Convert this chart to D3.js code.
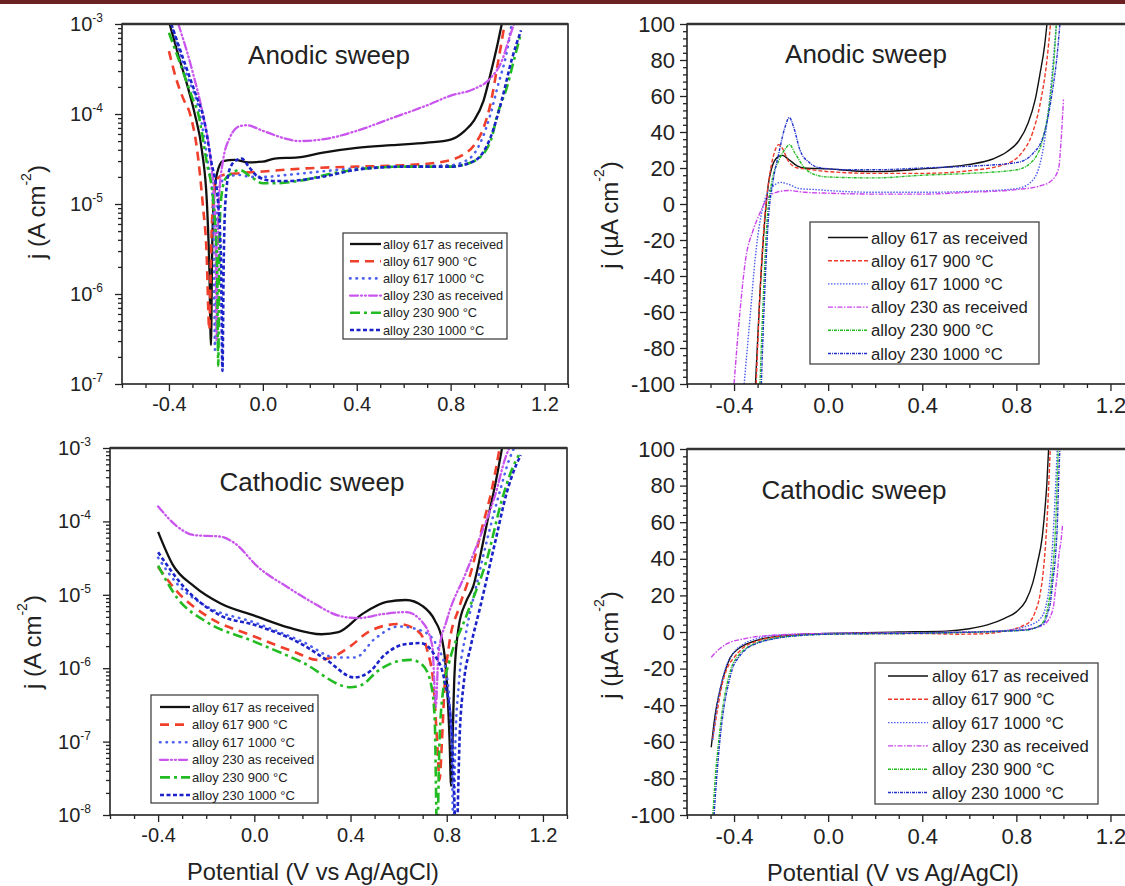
<!DOCTYPE html>
<html><head><meta charset="utf-8">
<script src="https://cdn.jsdelivr.net/npm/d3@7"></script>
<style>body{margin:0;background:#fff;} svg{display:block;font-family:"Liberation Sans",Arial,sans-serif;}</style>
</head><body><svg id="c" width="1125" height="886"></svg>
<script>
// ---------- DATA ----------
const seriesNames = ["alloy 617 as received","alloy 617 900 °C","alloy 617 1000 °C","alloy 230 as received","alloy 230 900 °C","alloy 230 1000 °C"];
const xTickValues = [-0.4, 0.0, 0.4, 0.8, 1.2];
const anodicLogExponents = [-3,-4,-5,-6,-7];
const cathodicLogExponents = [-3,-4,-5,-6,-7,-8];
const linearTickValues = [100,80,60,40,20,0,-20,-40,-60,-80,-100];

// Anodic sweep, j in A cm^-2 : [potential V, j]
const anLog617AR = [[-0.397,1e-3],[-0.36,4.5e-4],[-0.32,2e-4],[-0.29,1e-4],[-0.26,4e-5],[-0.238,1e-5],[-0.228,2e-6],[-0.221,2.7e-7],[-0.216,3e-6],[-0.21,1e-5],[-0.195,2.2e-5],[-0.17,3.0e-5],[-0.12,3.1e-5],[-0.06,2.9e-5],[0.0,2.95e-5],[0.05,3.2e-5],[0.15,3.3e-5],[0.25,3.7e-5],[0.4,4.2e-5],[0.55,4.5e-5],[0.7,4.8e-5],[0.8,5.2e-5],[0.86,6.5e-5],[0.9,8.5e-5],[0.94,1.4e-4],[0.97,2.8e-4],[1.0,6e-4],[1.018,1e-3]];
const anLog617_900 = [[-0.40,5e-4],[-0.37,2.5e-4],[-0.34,1.5e-4],[-0.31,1e-4],[-0.28,4e-5],[-0.256,1e-5],[-0.24,3e-6],[-0.228,4e-7],[-0.222,2e-6],[-0.215,8e-6],[-0.2,1.8e-5],[-0.17,2.1e-5],[-0.1,2.2e-5],[0.0,2.3e-5],[0.2,2.5e-5],[0.4,2.6e-5],[0.6,2.7e-5],[0.75,2.9e-5],[0.85,3.5e-5],[0.9,4.5e-5],[0.94,7e-5],[0.97,1.3e-4],[1.0,3.5e-4],[1.03,1e-3]];
const anLog617_1000 = [[-0.39,1e-3],[-0.33,3e-4],[-0.268,1e-4],[-0.235,3e-5],[-0.212,1e-5],[-0.208,2e-6],[-0.204,2.4e-7],[-0.2,2e-6],[-0.195,8e-6],[-0.18,1.7e-5],[-0.15,2.0e-5],[-0.1,2.1e-5],[-0.05,2.0e-5],[0.0,2.0e-5],[0.1,2.1e-5],[0.25,2.3e-5],[0.4,2.5e-5],[0.6,2.6e-5],[0.8,2.7e-5],[0.88,3.2e-5],[0.93,5e-5],[0.97,1e-4],[1.0,2e-4],[1.04,5e-4],[1.06,1e-3]];
const anLog230AR = [[-0.36,1e-3],[-0.3,3e-4],[-0.256,1e-4],[-0.222,3e-5],[-0.206,1e-5],[-0.2,2e-6],[-0.197,3e-7],[-0.193,2e-6],[-0.188,1e-5],[-0.17,3e-5],[-0.14,5.5e-5],[-0.1,7.3e-5],[-0.07,7.5e-5],[0.0,6.5e-5],[0.1,5.3e-5],[0.15,5e-5],[0.25,5.2e-5],[0.4,6.5e-5],[0.55,9e-5],[0.7,1.25e-4],[0.8,1.6e-4],[0.9,1.9e-4],[0.97,2.5e-4],[1.02,4e-4],[1.05,7e-4],[1.07,1e-3]];
const anLog230_900 = [[-0.40,8e-4],[-0.35,3.5e-4],[-0.3,1.5e-4],[-0.275,1e-4],[-0.24,3e-5],[-0.21,1e-5],[-0.195,2e-6],[-0.19,1.6e-7],[-0.186,2e-6],[-0.18,1e-5],[-0.16,1.9e-5],[-0.13,2.2e-5],[-0.1,2.4e-5],[-0.05,2.0e-5],[0.0,1.7e-5],[0.05,1.7e-5],[0.15,1.8e-5],[0.3,2.2e-5],[0.45,2.5e-5],[0.6,2.6e-5],[0.8,2.6e-5],[0.9,3e-5],[0.97,5e-5],[1.0,1e-4],[1.04,2e-4],[1.07,4e-4],[1.1,8e-4]];
const anLog230_1000 = [[-0.39,1e-3],[-0.33,3.5e-4],[-0.28,1.5e-4],[-0.256,1e-4],[-0.22,3e-5],[-0.19,1e-5],[-0.178,2e-6],[-0.172,1.4e-7],[-0.167,2e-6],[-0.16,1e-5],[-0.14,2.5e-5],[-0.11,3.1e-5],[-0.09,3.2e-5],[-0.06,2.6e-5],[-0.02,2.0e-5],[0.05,1.8e-5],[0.1,1.8e-5],[0.25,2.0e-5],[0.4,2.4e-5],[0.6,2.6e-5],[0.8,2.6e-5],[0.9,3e-5],[0.97,5.5e-5],[1.02,1.5e-4],[1.06,4e-4],[1.1,8.5e-4]];

// Anodic sweep, j in µA cm^-2
const anLin617AR = [[-0.309,-100],[-0.29,-50],[-0.27,-10],[-0.255,10],[-0.235,22],[-0.21,26.5],[-0.195,27],[-0.17,25],[-0.13,21],[-0.1,20],[0.0,19.5],[0.1,18.5],[0.2,18],[0.3,18.5],[0.4,19.5],[0.5,20.5],[0.6,22],[0.7,25],[0.76,29],[0.81,35],[0.85,45],[0.88,58],[0.9,72],[0.92,88],[0.93,100]];
const anLin617_900 = [[-0.306,-100],[-0.29,-50],[-0.27,-8],[-0.25,15],[-0.23,28],[-0.21,33],[-0.195,31],[-0.17,24],[-0.13,20],[-0.1,19.5],[0.0,18],[0.2,17],[0.4,17],[0.6,18.5],[0.75,22],[0.82,28],[0.87,40],[0.9,55],[0.93,80],[0.945,100]];
const anLin617_1000 = [[-0.357,-100],[-0.33,-60],[-0.31,-30],[-0.29,-10],[-0.27,2],[-0.24,9],[-0.2,12],[-0.17,11],[-0.12,8.5],[-0.05,8],[0.0,7.5],[0.2,6.5],[0.4,6.5],[0.6,7],[0.8,8.5],[0.86,12],[0.9,22],[0.93,45],[0.95,70],[0.97,100]];
const anLin230AR = [[-0.40,-100],[-0.375,-60],[-0.35,-30],[-0.32,-15],[-0.29,-5],[-0.26,3],[-0.22,6.5],[-0.17,7.5],[-0.1,6.5],[0.0,6],[0.2,5.5],[0.4,5.5],[0.6,6.5],[0.8,8],[0.9,10],[0.95,13],[0.98,20],[0.99,35],[1.0,58]];
const anLin230_900 = [[-0.29,-100],[-0.275,-50],[-0.26,-10],[-0.24,12],[-0.21,24],[-0.18,31],[-0.165,33],[-0.14,28],[-0.1,20],[-0.05,16],[0.0,15],[0.2,14.5],[0.4,16],[0.6,17],[0.8,19],[0.87,24],[0.91,35],[0.94,55],[0.96,80],[0.97,100]];
const anLin230_1000 = [[-0.284,-100],[-0.27,-50],[-0.255,-10],[-0.235,12],[-0.21,28],[-0.185,42],[-0.165,48],[-0.145,42],[-0.12,30],[-0.08,23],[-0.03,20],[0.1,19],[0.2,19],[0.4,20],[0.6,21],[0.8,23],[0.87,28],[0.92,40],[0.95,60],[0.975,85],[0.985,100]];

// Cathodic sweep, j in A cm^-2
const catLog617AR = [[-0.4,7.2e-5],[-0.34,2.6e-5],[-0.25,1.3e-5],[-0.14,7.6e-6],[0.0,5.2e-6],[0.14,3.6e-6],[0.28,2.9e-6],[0.35,3.1e-6],[0.45,5.5e-6],[0.55,8e-6],[0.63,8.5e-6],[0.7,7e-6],[0.75,4.5e-6],[0.78,2.5e-6],[0.8,7e-7],[0.812,1e-7],[0.818,2.5e-8],[0.824,1e-7],[0.832,8e-7],[0.85,3.7e-6],[0.88,8e-6],[0.91,1.3e-5],[0.95,5e-5],[0.98,1.5e-4],[1.0,3e-4],[1.03,1e-3]];
const catLog617_900 = [[-0.4,2.4e-5],[-0.32,1.1e-5],[-0.2,5.2e-6],[0.0,2.7e-6],[0.17,1.65e-6],[0.26,1.3e-6],[0.32,1.4e-6],[0.4,2e-6],[0.48,3.2e-6],[0.6,4e-6],[0.68,3.2e-6],[0.72,1.7e-6],[0.745,6e-7],[0.76,1e-7],[0.77,3e-8],[0.78,1e-7],[0.79,5e-7],[0.81,2.1e-6],[0.85,6.5e-6],[0.9,2e-5],[0.95,9e-5],[0.985,2.5e-4],[1.02,1e-3]];
const catLog617_1000 = [[-0.4,3.2e-5],[-0.32,1.4e-5],[-0.2,7e-6],[0.0,4.2e-6],[0.2,2.3e-6],[0.34,1.4e-6],[0.42,1.4e-6],[0.5,2.5e-6],[0.6,3.7e-6],[0.7,3.2e-6],[0.76,2e-6],[0.8,8e-7],[0.82,1e-7],[0.828,5e-9],[0.836,1e-7],[0.85,6e-7],[0.88,3e-6],[0.92,1.2e-5],[0.97,6e-5],[1.02,2.5e-4],[1.06,7e-4],[1.08,1e-3]];
const catLog230AR = [[-0.4,1.6e-4],[-0.32,8.5e-5],[-0.25,6.5e-5],[-0.14,6.2e-5],[-0.08,5e-5],[0.015,2.4e-5],[0.14,1.26e-5],[0.25,7.6e-6],[0.35,5.2e-6],[0.43,4.8e-6],[0.54,5.5e-6],[0.63,5.8e-6],[0.7,4.2e-6],[0.74,2e-6],[0.755,3e-7],[0.765,1.5e-6],[0.8,4.5e-6],[0.88,2e-5],[0.94,6.3e-5],[1.0,2.2e-4],[1.046,7.7e-4],[1.06,1e-3]];
const catLog230_900 = [[-0.4,2.5e-5],[-0.32,9e-6],[-0.2,4.3e-6],[0.0,2.3e-6],[0.2,1.2e-6],[0.4,5.5e-7],[0.45,6e-7],[0.51,9e-7],[0.6,1.25e-6],[0.65,1.3e-6],[0.7,1.1e-6],[0.735,6e-7],[0.75,2e-7],[0.76,5e-9],[0.77,1e-7],[0.785,5e-7],[0.81,1.2e-6],[0.88,5e-6],[0.97,3.3e-5],[1.03,2e-4],[1.07,5e-4],[1.1,8e-4]];
const catLog230_1000 = [[-0.4,3.8e-5],[-0.29,1.25e-5],[-0.14,5.2e-6],[0.0,3.9e-6],[0.2,2.1e-6],[0.3,1.3e-6],[0.415,7.5e-7],[0.48,9e-7],[0.54,1.5e-6],[0.62,2.1e-6],[0.69,2.2e-6],[0.75,1.5e-6],[0.79,7e-7],[0.82,1.5e-7],[0.84,5e-9],[0.855,1.5e-7],[0.87,6e-7],[0.9,2e-6],[0.94,7e-6],[1.0,5e-5],[1.05,2.5e-4],[1.09,6e-4],[1.108,8e-4]];

// Cathodic sweep, j in µA cm^-2
const catLin617AR = [[-0.497,-63],[-0.48,-45],[-0.46,-32],[-0.44,-22],[-0.416,-14],[-0.38,-9],[-0.343,-6.4],[-0.29,-4],[-0.24,-2.8],[-0.1,-1.2],[0.1,-0.5],[0.3,0],[0.5,0.5],[0.6,1.8],[0.68,4],[0.75,7.5],[0.8,11],[0.84,17],[0.87,27],[0.89,38],[0.91,52],[0.92,65],[0.93,82],[0.937,100]];
const catLin617_900 = [[-0.49,-58],[-0.47,-42],[-0.453,-30],[-0.43,-20],[-0.4,-14],[-0.36,-8.5],[-0.313,-5.5],[-0.25,-3.2],[-0.1,-1.3],[0.2,-0.8],[0.4,-0.8],[0.55,-1.2],[0.65,-1],[0.75,0.5],[0.82,3],[0.86,6],[0.88,11],[0.9,20],[0.915,34],[0.93,60],[0.944,100]];
const catLin617_1000 = [[-0.49,-59],[-0.47,-38],[-0.45,-26],[-0.43,-17.5],[-0.4,-11],[-0.357,-6.4],[-0.3,-3.5],[-0.24,-2],[0.0,-0.8],[0.42,-0.4],[0.7,0.3],[0.834,2.8],[0.9,7],[0.925,14],[0.94,25],[0.955,50],[0.965,75],[0.974,100]];
const catLin230AR = [[-0.497,-13.8],[-0.46,-9],[-0.43,-6.4],[-0.357,-3.7],[-0.24,-1.8],[0.0,-0.8],[0.42,-0.4],[0.79,1],[0.893,2.8],[0.93,5.5],[0.944,8.3],[0.96,16],[0.966,23],[0.975,33],[0.98,41],[0.99,50],[0.996,58]];
const catLin230_900 = [[-0.49,-100],[-0.48,-80],[-0.468,-63],[-0.45,-43],[-0.43,-28.5],[-0.41,-19],[-0.387,-13.8],[-0.35,-9],[-0.313,-6.4],[-0.25,-4],[-0.196,-2.8],[0.0,-1.2],[0.42,-0.6],[0.834,1],[0.9,3.5],[0.925,9],[0.937,15.6],[0.95,28],[0.959,41],[0.968,62],[0.974,84],[0.978,100]];
const catLin230_1000 = [[-0.485,-100],[-0.474,-80],[-0.463,-63],[-0.445,-43],[-0.424,-28.5],[-0.404,-19],[-0.38,-13.8],[-0.345,-9],[-0.306,-6.4],[-0.24,-4],[-0.188,-2.8],[0.0,-1.2],[0.42,-0.6],[0.834,1],[0.915,4.6],[0.935,11],[0.944,15.6],[0.955,28],[0.966,41],[0.975,62],[0.98,84],[0.985,100]];

// ---------- STYLES ----------
const logStyles = [
  {color:"#111111", width:2.3, dash:null, cap:"butt"},
  {color:"#f0402c", width:2.6, dash:"9,6", cap:"butt"},
  {color:"#4d5ff0", width:2.6, dash:"0.5,6", cap:"round"},
  {color:"#c955ee", width:2.3, dash:"8,3,1,3,1,3", cap:"round"},
  {color:"#22bb22", width:2.6, dash:"10,4,3,4", cap:"butt"},
  {color:"#1a22c8", width:2.6, dash:"4,2.5", cap:"butt"}
];
const linStyles = [
  {color:"#111111", width:1.4, dash:null, cap:"butt"},
  {color:"#ee3a2a", width:1.4, dash:"4,2", cap:"butt"},
  {color:"#4a5cf0", width:1.4, dash:"1.5,1.5", cap:"butt"},
  {color:"#cc44ee", width:1.4, dash:"5,1.5,1.5,1.5", cap:"butt"},
  {color:"#22bb22", width:1.4, dash:"3,1,1,1", cap:"butt"},
  {color:"#2233cc", width:1.4, dash:"3,1,1,1", cap:"butt"}
];

const panels = [
  {log:true, exps:anodicLogExponents, x0:122, x1:568, y0:24, y1:384, series:[anLog617AR,anLog617_900,anLog617_1000,anLog230AR,anLog230_900,anLog230_1000],
   styles:logStyles, tickFs:20, title:"Anodic sweep", tx:329, ty:55, ytitle:["j (A cm","-2",")"], ytx:36, yty:212, yfs:24, xtitle:false,
   leg:{bx0:343,by0:233,bx1:507,by1:339,row0:244,dy:17.2,lx0:350,lx1:381,tx:383,fs:12.8}},
  {log:false, x0:687, x1:1134, y0:24, y1:384, series:[anLin617AR,anLin617_900,anLin617_1000,anLin230AR,anLin230_900,anLin230_1000],
   styles:linStyles, tickFs:22, title:"Anodic sweep", tx:866, ty:54, ytitle:["j (\u00b5A cm","-2",")"], ytx:609, yty:215, yfs:24, xtitle:false,
   leg:{bx0:810,by0:222,bx1:1039,by1:364,row0:237.5,dy:23.2,lx0:828,lx1:868,tx:871,fs:16.7}},
  {log:true, exps:cathodicLogExponents, x0:110, x1:567, y0:448, y1:815, series:[catLog617AR,catLog617_900,catLog617_1000,catLog230AR,catLog230_900,catLog230_1000],
   styles:logStyles, tickFs:20, title:"Cathodic sweep", tx:312, ty:482, ytitle:["j (A cm","-2",")"], ytx:32, yty:642, yfs:24, xtitle:true, xtx:313, xty:872,
   leg:{bx0:151,by0:695,bx1:318,by1:803,row0:707,dy:17.6,lx0:160,lx1:190,tx:192,fs:13}},
  {log:false, x0:687, x1:1134, y0:449, y1:815, series:[catLin617AR,catLin617_900,catLin617_1000,catLin230AR,catLin230_900,catLin230_1000],
   styles:linStyles, tickFs:22, title:"Cathodic sweep", tx:854, ty:490, ytitle:["j (\u00b5A cm","-2",")"], ytx:609, yty:645, yfs:24, xtitle:true, xtx:893, xty:873,
   leg:{bx0:875,by0:663,bx1:1098,by1:804,row0:676,dy:23.3,lx0:888,lx1:928,tx:932,fs:16.7}}
];

const svg = d3.select("#c");
svg.append("rect").attr("x",0).attr("y",0).attr("width",1125).attr("height",4).attr("fill","#6b2121");

function styleLine(sel, st){
  sel.attr("fill","none").attr("stroke",st.color).attr("stroke-width",st.width)
     .attr("stroke-linecap",st.cap).attr("stroke-linejoin","round");
  if (st.dash) sel.attr("stroke-dasharray",st.dash);
  return sel;
}

panels.forEach((p,pi)=>{
  const g = svg.append("g");
  const x = d3.scaleLinear().domain([-0.6,1.3]).range([p.x0,p.x1]);
  const y = p.log
    ? d3.scaleLog().domain([Math.pow(10,d3.min(p.exps)), Math.pow(10,d3.max(p.exps))]).range([p.y1,p.y0])
    : d3.scaleLinear().domain([-100,100]).range([p.y1,p.y0]);

  const clipId = "clip"+pi;
  svg.append("clipPath").attr("id",clipId).append("rect")
    .attr("x",p.x0).attr("y",p.y0).attr("width",p.x1-p.x0).attr("height",p.y1-p.y0);

  // x axis (major + minor)
  const xMinor = d3.range(-6,14).map(v=>v/10).filter(v=>!xTickValues.some(t=>Math.abs(t-v)<1e-9));
  const xa = g.append("g").attr("transform",`translate(0,${p.y1})`)
    .call(d3.axisBottom(x).tickValues(xTickValues).tickSize(7).tickPadding(6).tickFormat(v=>v.toFixed(1)));
  const xm = g.append("g").attr("transform",`translate(0,${p.y1})`)
    .call(d3.axisBottom(x).tickValues(xMinor).tickSize(4).tickFormat(""));
  [xa,xm].forEach(a=>{a.select(".domain").remove(); a.selectAll("line").attr("stroke","#222").attr("stroke-width",1.3);});
  xa.selectAll("text").attr("font-size",p.tickFs).attr("font-family","Liberation Sans, Arial, sans-serif").attr("fill","#222");

  // y axis
  if (p.log){
    const majors = p.exps.map(e=>Math.pow(10,e));
    const minors = y.ticks().filter(v=>!majors.some(m=>Math.abs(Math.log10(m)-Math.log10(v))<1e-6));
    const ya = g.append("g").attr("transform",`translate(${p.x0},0)`)
      .call(d3.axisLeft(y).tickValues(majors).tickSize(7).tickFormat(""));
    const ym = g.append("g").attr("transform",`translate(${p.x0},0)`)
      .call(d3.axisLeft(y).tickValues(minors).tickSize(4).tickFormat(""));
    [ya,ym].forEach(a=>{a.select(".domain").remove(); a.selectAll("line").attr("stroke","#222").attr("stroke-width",1.3);});
    p.exps.forEach(e=>{
      const t = g.append("text").attr("x",p.x0-19).attr("y",y(Math.pow(10,e))+7)
        .attr("text-anchor","end").attr("font-size",p.tickFs).attr("fill","#222");
      t.append("tspan").text("10");
      t.append("tspan").attr("dy",-9).attr("font-size",12).text(String(e));
    });
  } else {
    const minors = d3.range(-100,101,4).filter(v=>v%20!==0);
    const ya = g.append("g").attr("transform",`translate(${p.x0},0)`)
      .call(d3.axisLeft(y).tickValues(linearTickValues).tickSize(7).tickPadding(5).tickFormat(v=>String(v)));
    const ym = g.append("g").attr("transform",`translate(${p.x0},0)`)
      .call(d3.axisLeft(y).tickValues(minors).tickSize(4).tickFormat(""));
    [ya,ym].forEach(a=>{a.select(".domain").remove(); a.selectAll("line").attr("stroke","#222").attr("stroke-width",1.3);});
    ya.selectAll("text").attr("font-size",p.tickFs).attr("font-family","Liberation Sans, Arial, sans-serif").attr("fill","#222");
  }

  // curves
  const line = d3.line().x(d=>x(d[0])).y(d=>y(d[1])).curve(d3.curveMonotoneX);
  const cg = g.append("g").attr("clip-path",`url(#${clipId})`);
  p.series.forEach((s,i)=>{
    styleLine(cg.append("path").datum(s).attr("d",line), p.styles[i]);
  });

  // frame
  g.append("rect").attr("x",p.x0).attr("y",p.y0).attr("width",p.x1-p.x0).attr("height",p.y1-p.y0)
    .attr("fill","none").attr("stroke","#222").attr("stroke-width",1.6);
  g.append("line").attr("x1",p.x0).attr("x2",p.x1).attr("y1",p.y0).attr("y2",p.y0)
    .attr("stroke","#333").attr("stroke-width",2.4);

  // title
  g.append("text").attr("x",p.tx).attr("y",p.ty+9).attr("text-anchor","middle")
    .attr("font-size",26).attr("fill","#222").text(p.title);

  // y title
  const yt = g.append("text").attr("transform",`translate(${p.ytx},${p.yty}) rotate(-90)`)
    .attr("text-anchor","middle").attr("dominant-baseline","central").attr("font-size",p.yfs).attr("fill","#222");
  yt.append("tspan").text(p.ytitle[0]);
  yt.append("tspan").attr("dy",-10).attr("font-size",14).text(p.ytitle[1]);
  yt.append("tspan").attr("dy",10).text(p.ytitle[2]);

  // x title
  if (p.xtitle){
    g.append("text").attr("x",p.xtx).attr("y",p.xty+8).attr("text-anchor","middle")
      .attr("font-size",23.6).attr("fill","#222").text("Potential (V vs Ag/AgCl)");
  }

  // legend
  const L = p.leg;
  g.append("rect").attr("x",L.bx0).attr("y",L.by0).attr("width",L.bx1-L.bx0).attr("height",L.by1-L.by0)
    .attr("fill","#fff").attr("stroke","#444").attr("stroke-width",1.3);
  seriesNames.forEach((nm,i)=>{
    const yy = L.row0 + i*L.dy;
    styleLine(g.append("line").attr("x1",L.lx0).attr("x2",L.lx1).attr("y1",yy).attr("y2",yy), p.styles[i]);
    g.append("text").attr("x",L.tx).attr("y",yy+L.fs*0.36).attr("font-size",L.fs).attr("fill","#222").text(nm);
  });
});
</script></body></html>
